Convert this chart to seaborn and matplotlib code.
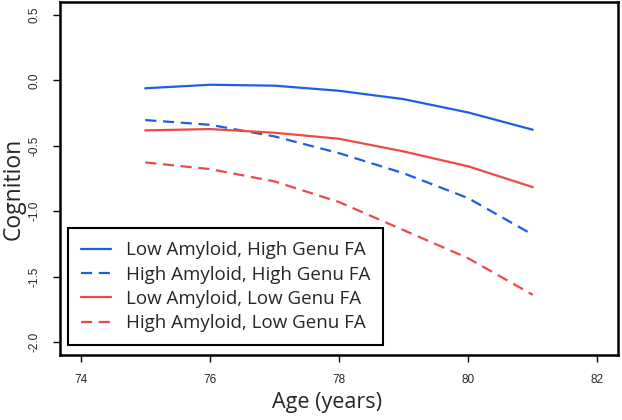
import matplotlib
matplotlib.use("Agg")
import matplotlib.pyplot as plt
import seaborn as sns
import pandas as pd

ages = [75, 76, 77, 78, 79, 80, 81]
low_amy_high_fa = [-0.06, -0.033, -0.04, -0.079, -0.143, -0.245, -0.377]
high_amy_high_fa = [-0.303, -0.339, -0.428, -0.556, -0.71, -0.90, -1.18]
low_amy_low_fa = [-0.382, -0.372, -0.40, -0.446, -0.543, -0.657, -0.816]
high_amy_low_fa = [-0.627, -0.678, -0.772, -0.93, -1.145, -1.36, -1.64]
labels = ["Low Amyloid, High Genu FA", "High Amyloid, High Genu FA",
          "Low Amyloid, Low Genu FA", "High Amyloid, Low Genu FA"]
x_ticks = [74, 76, 78, 80, 82]
y_ticks = [-2.0, -1.5, -1.0, -0.5, 0.0, 0.5]

series = [low_amy_high_fa, high_amy_high_fa, low_amy_low_fa, high_amy_low_fa]
rows = []
for lab, vals in zip(labels, series):
    for a, v in zip(ages, vals):
        rows.append({"Age": a, "Cognition": v, "Group": lab})
df = pd.DataFrame(rows)

sns.set_style("white")
plt.rcParams['font.family'] = ['DejaVu Sans']

blue = "#1c5fe6"
red = "#ee4848"
palette = {labels[0]: blue, labels[1]: blue, labels[2]: red, labels[3]: red}
dashes = {labels[0]: "", labels[1]: (5, 3), labels[2]: "", labels[3]: (5, 3)}

fig = plt.figure(figsize=(6.22, 4.2), dpi=100)
ax = fig.add_axes([60/622, 1-355/420, 558/622, 353/420])
sns.lineplot(data=df, x="Age", y="Cognition", hue="Group", style="Group",
             palette=palette, dashes=dashes, hue_order=labels, style_order=labels,
             linewidth=1.6, ax=ax, legend=True)

ax.set_xlim(73.68, 82.32)
ax.set_ylim(-2.1, 0.6)
ax.set_xticks(x_ticks)
ax.set_xticklabels([str(t) for t in x_ticks], fontsize=8.5, family="Liberation Sans")
ax.set_yticks(y_ticks)
ax.set_yticklabels([f"{t:.1f}" for t in y_ticks], fontsize=8.5, rotation=90,
                   va="center", family="Liberation Sans")
ax.tick_params(axis="both", direction="out", length=5, width=1, color="black",
               bottom=True, left=True, pad=9)
for s in ax.spines.values():
    s.set_color("black")
    s.set_linewidth(1.8)

ax.set_xlabel("Age (years)", fontsize=15.5, family="Open Sans")
ax.set_ylabel("Cognition", fontsize=16.5, family="Open Sans")
ax.xaxis.set_label_coords(0.478, -0.105)
ax.yaxis.set_label_coords(-0.062, 0.47)

handles, labs = ax.get_legend_handles_labels()
leg = ax.legend(handles, labs, loc="lower left", bbox_to_anchor=(0.014, 0.028),
                borderaxespad=0, fancybox=False, framealpha=1, edgecolor="black",
                prop={"family": "Open Sans", "size": 13.5}, handlelength=1.6,
                handletextpad=0.8, labelspacing=0.34, borderpad=0.68)
leg.get_frame().set_linewidth(1.5)

fig.savefig("out.png", dpi=100)
